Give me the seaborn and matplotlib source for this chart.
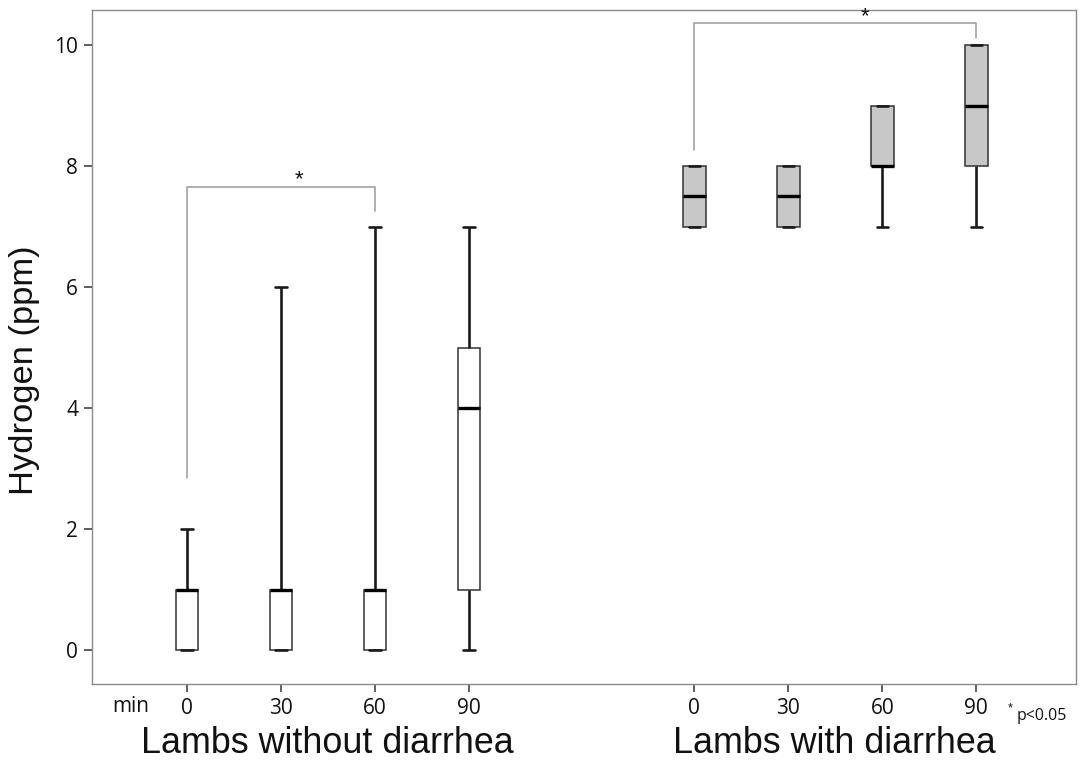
import numpy as np
import pandas as pd
import matplotlib
matplotlib.use("Agg")
import matplotlib.pyplot as plt
import seaborn as sns

# five-number summaries: min, q1, median, q3, max
times = ["0", "30", "60", "90"]
no_diarrhea = [[0, 0, 1, 1, 2],
               [0, 0, 1, 1, 6],
               [0, 0, 1, 1, 7],
               [0, 1, 4, 5, 7]]
with_diarrhea = [[7, 7, 7.5, 8, 8],
                 [7, 7, 7.5, 8, 8],
                 [7, 8, 8, 9, 9],
                 [7, 8, 9, 10, 10]]
group_names = ["Lambs without diarrhea", "Lambs with diarrhea"]

sns.set_style("white")
plt.rcParams['font.family'] = ['Liberation Sans', 'DejaVu Sans']
plt.rcParams['text.color'] = "#111111"
plt.rcParams['xtick.color'] = "#111111"
plt.rcParams['ytick.color'] = "#111111"

# layout: second group shifted right to leave a gap
offsets = [0.0, 5.4]
fills = ["white", "#c8c8c8"]

fig = plt.figure(figsize=(10.83, 7.63), dpi=100)
ax = fig.add_axes([0.085, 0.1035, 0.9085, 0.8835])

for gi, summaries in enumerate([no_diarrhea, with_diarrhea]):
    rows = []
    for ti, vals in enumerate(summaries):
        for v in vals:
            rows.append({"pos": offsets[gi] + ti, "hydrogen": v})
    df = pd.DataFrame(rows)
    sns.boxplot(data=df, x="pos", y="hydrogen", orient="x",
                native_scale=True, width=0.24, whis=(0, 100),
                color=fills[gi], saturation=1, linecolor="#1a1a1a",
                showfliers=False, ax=ax,
                boxprops=dict(linewidth=1.1, edgecolor="#333333"),
                whiskerprops=dict(linewidth=1.9, color="#1a1a1a"),
                capprops=dict(linewidth=1.9, color="#1a1a1a"),
                medianprops=dict(linewidth=2.4, color="black"))

# significance brackets
br_col = "#9a9a9a"
ax.plot([0, 0, 2, 2], [2.84, 7.66, 7.66, 7.25], color=br_col, lw=1.1)
ax.text(1.19, 7.78, "*", ha="center", va="center", fontsize=16)
ax.plot([5.4, 5.4, 8.4, 8.4], [8.26, 10.36, 10.36, 10.12], color=br_col, lw=1.1)
ax.text(7.22, 10.46, "*", ha="center", va="center", fontsize=16)

ax.set_xlim(-1.01, 9.46)
ax.set_ylim(-0.56, 10.58)
positions = [offsets[g] + t for g in range(2) for t in range(4)]
ax.set_xticks(positions)
ax.set_xticklabels(times * 2, fontfamily="Open Sans", fontsize=15)
ax.set_yticks([0, 2, 4, 6, 8, 10])
ax.set_yticklabels(["0", "2", "4", "6", "8", "10"], fontfamily="Open Sans", fontsize=15)
ax.tick_params(axis="both", direction="out", length=6, width=1.2,
               color="#444444", pad=4, bottom=True, left=True)
ax.set_xlabel("")
ax.set_ylabel("")
for sp in ax.spines.values():
    sp.set_color("#8a8a8a")
    sp.set_linewidth(1.0)

fig.text(0.023, 0.515, "Hydrogen (ppm)", rotation=90, ha="center", va="center", fontsize=24.8)
fig.text(0.121, 0.074, "min", ha="center", va="center", fontsize=15, fontfamily="Open Sans")
fig.text(0.302, 0.026, group_names[0], ha="center", va="center", fontsize=25.8)
fig.text(0.770, 0.026, group_names[1], ha="center", va="center", fontsize=25.8)
fig.text(0.9325, 0.071, "*", ha="center", va="center", fontsize=9)
fig.text(0.939, 0.062, "p<0.05", ha="left", va="center", fontsize=11.5, fontfamily="Open Sans")

fig.savefig("out.png", dpi=100)
